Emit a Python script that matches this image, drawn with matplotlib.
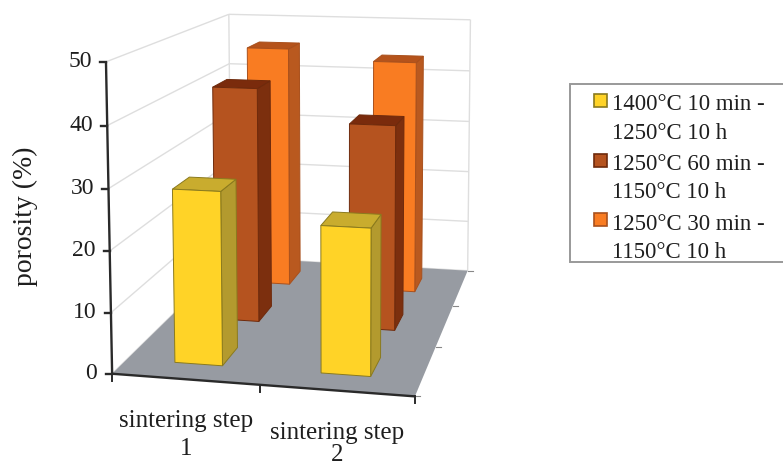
"""Porosity after two sintering steps, drawn as a 3D column chart with an Excel-like camera."""

import matplotlib

matplotlib.use("Agg")
import matplotlib.pyplot as plt
import numpy as np
from matplotlib.patches import Polygon, Rectangle

categories = ["sintering step\n1", "sintering step\n2"]
series_labels = [
    "1400°C 10 min -\n1250°C 10 h",
    "1250°C 60 min -\n1150°C 10 h",
    "1250°C 30 min -\n1150°C 10 h",
]
porosity = [
    [28.7, 24.0],
    [41.6, 36.0],
    [45.5, 43.6],
]
y_ticks = [0, 10, 20, 30, 40, 50]

Y_MAX = 50.0
BAR_W = 0.165  # fraction of the floor width
BAR_D = 0.13  # fraction of the floor depth

FACE = ["#FFD327", "#B5531F", "#F97C22"]
SIDE = ["#B39A2E", "#7C2F0E", "#B9591F"]
TOP = ["#C9AC2E", "#7A2B0C", "#B5531B"]
EDGE = ["#8A7A1E", "#6E2A0C", "#A9501C"]
GRID = "#DEDEDE"
AXIS = "#2A2A2A"
TEXT = "#1E1E1E"

# (x, depth, height) -> pixel anchors used to solve the camera matrix
_world = np.array(
    [
        (0, 0, 0),
        (1, 0, 0),
        (1, 1, 0),
        (0, 1, 0),
        (0, 0, 1),
        (0, 1, 1),
        (1, 1, 1),
    ],
    dtype=float,
)
_pixels = np.array(
    [(113, 373), (415, 397), (468, 270), (230, 258), (105, 62), (230, 14), (470, 20)],
    dtype=float,
)


def _solve_camera(world, pixels):
    rows = []
    for (x, d, h), (u, v) in zip(world, pixels):
        rows.append([x, d, h, 1, 0, 0, 0, 0, -u * x, -u * d, -u * h, -u])
        rows.append([0, 0, 0, 0, x, d, h, 1, -v * x, -v * d, -v * h, -v])
    _, _, vt = np.linalg.svd(np.array(rows))
    return vt[-1].reshape(3, 4)


CAMERA = _solve_camera(_world, _pixels)


def project(x, d, value):
    p = CAMERA @ np.array([x, d, value / Y_MAX, 1.0])
    return p[0] / p[2], p[1] / p[2]


def quad(ax, corners, face, edge="none", lw=0.0, z=1):
    ax.add_patch(
        Polygon(
            [project(*c) for c in corners],
            closed=True,
            facecolor=face,
            edgecolor=edge,
            linewidth=lw,
            zorder=z,
        )
    )


def line(ax, a, b, color, lw, z=1):
    pa, pb = project(*a), project(*b)
    ax.plot([pa[0], pb[0]], [pa[1], pb[1]], color=color, lw=lw, zorder=z, solid_capstyle="butt")


def draw_bar(ax, x, d, value, s, z):
    x0, x1 = x - BAR_W / 2, x + BAR_W / 2
    d0, d1 = d - BAR_D / 2, d + BAR_D / 2
    kw = dict(edge=EDGE[s], lw=0.7, z=z)
    quad(ax, [(x1, d0, 0), (x1, d1, 0), (x1, d1, value), (x1, d0, value)], SIDE[s], **kw)
    quad(ax, [(x0, d0, value), (x1, d0, value), (x1, d1, value), (x0, d1, value)], TOP[s], **kw)
    quad(ax, [(x0, d0, 0), (x1, d0, 0), (x1, d0, value), (x0, d0, value)], FACE[s], **kw)


def main():
    plt.rcParams["font.family"] = ["Liberation Serif", "DejaVu Serif"]
    fig = plt.figure(figsize=(7.83, 4.66), dpi=100)
    ax = fig.add_axes([0, 0, 1, 1])
    ax.set_xlim(0, 783)
    ax.set_ylim(466, 0)
    ax.axis("off")

    # walls and gridlines
    for v in y_ticks:
        line(ax, (0, 0, v), (0, 1, v), GRID, 1.0)
        line(ax, (0, 1, v), (1, 1, v), GRID, 1.0)
    line(ax, (0, 1, 0), (0, 1, Y_MAX), GRID, 1.0)
    line(ax, (1, 1, 0), (1, 1, Y_MAX), GRID, 1.0)

    quad(ax, [(0, 0, 0), (1, 0, 0), (1, 1, 0), (0, 1, 0)], "#979BA2", z=2)

    # columns, back row first
    z = 3
    for s in (2, 1, 0):
        d = (s + 0.5) / 3
        for c, value in enumerate(porosity[s]):
            draw_bar(ax, (c + 0.5) / 2, d, value, s, z)
            z += 1

    # axes and ticks
    line(ax, (0, 0, 0), (0, 0, Y_MAX), AXIS, 1.7, 20)
    line(ax, (0, 0, 0), (1, 0, 0), AXIS, 1.7, 20)
    for v in y_ticks:
        px, py = project(0, 0, v)
        ax.plot([px - 6, px], [py, py], color=AXIS, lw=1.7, zorder=20)
        ax.text(min(97, px - 14), py, str(v), ha="right", va="center", fontsize=17, color=TEXT)
    for i in range(3):
        px, py = project(i / 2, 0, 0)
        ax.plot([px, px], [py, py + 7], color=AXIS, lw=1.4, zorder=20)
    for i in range(4):
        px, py = project(1, i / 3, 0)
        ax.plot([px, px + 5], [py, py], color="#888888", lw=0.8, zorder=1)

    ax.text(25, 216, "porosity (%)", rotation=90, ha="center", va="center", fontsize=20, color=TEXT)

    # the second label is set tighter so its last line stays inside the figure
    for label, cx, cy, spacing in zip(categories, (186, 337), (435, 444), (1.4, 1.05)):
        ax.text(cx, cy, label, ha="center", va="center", fontsize=18, color=TEXT, linespacing=spacing)

    # legend box runs off the right edge of the figure
    ax.add_patch(Rectangle((570, 84), 225, 178, facecolor="white", edgecolor="#999999", lw=1.4, zorder=5))
    for s, label in enumerate(series_labels):
        top = 105 + s * 59.5
        ax.add_patch(Rectangle((594, top - 11), 13, 13, facecolor=FACE[s], edgecolor=EDGE[s], lw=1.2, zorder=6))
        first, second = label.split("\n")
        ax.text(612, top, first, ha="left", va="center", fontsize=16.5, color=TEXT, zorder=6)
        ax.text(612, top + 28.5, second, ha="left", va="center", fontsize=16.5, color=TEXT, zorder=6)

    fig.savefig("out.png", dpi=100)
    plt.close(fig)


if __name__ == "__main__":
    main()
